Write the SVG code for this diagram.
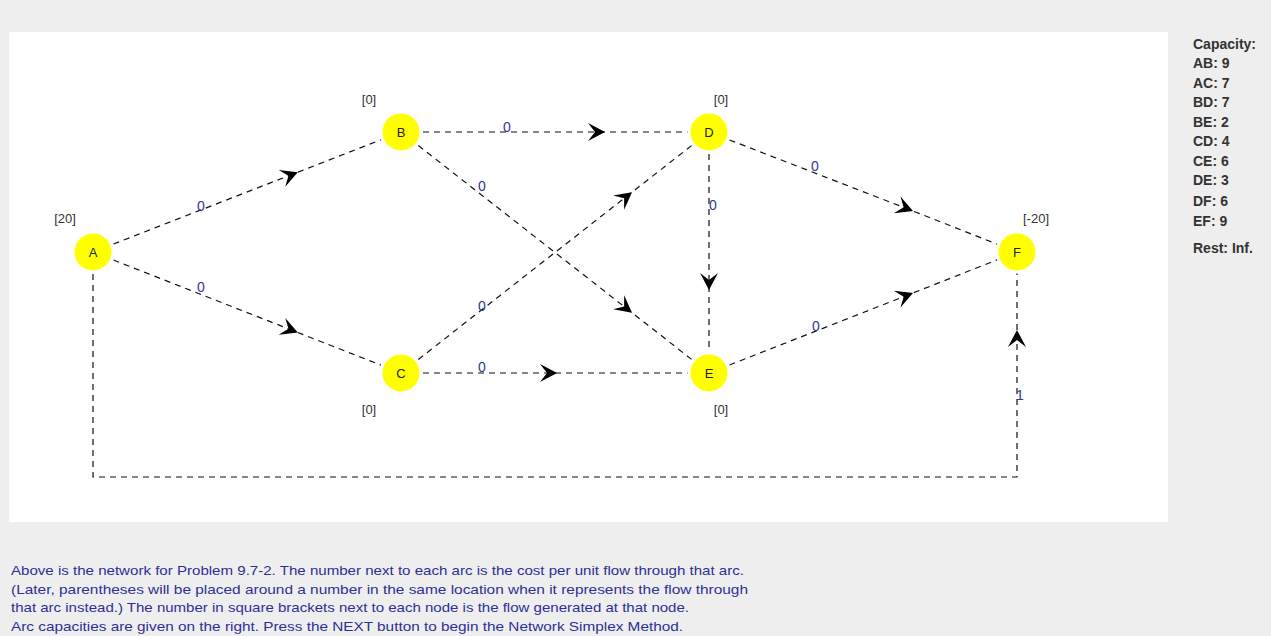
<svg xmlns="http://www.w3.org/2000/svg" width="1271" height="636" viewBox="0 0 1271 636">
<style>
.edge{fill:none;stroke:#111;stroke-width:1.2;stroke-dasharray:6 5}
.node{fill:#ffff00;stroke:#ffffff;stroke-width:3}
.nl{font-family:"Liberation Sans",Arial,sans-serif;font-size:13px;fill:#222;text-anchor:middle}
.br{font-family:"Liberation Sans",Arial,sans-serif;font-size:13px;fill:#333;text-anchor:middle}
.cost{font-family:"Liberation Sans",Arial,sans-serif;font-size:14px;fill:#33339a;text-anchor:middle}
.cap{font-family:"Liberation Sans",Arial,sans-serif;font-size:14px;font-weight:bold;fill:#333}
.info{font-family:"Liberation Sans",Arial,sans-serif;font-size:13px;fill:#2e2e96}
</style>
<defs>
<marker id="ah" markerUnits="userSpaceOnUse" viewBox="-18 -10 19 20" markerWidth="19" markerHeight="20" refX="0" refY="0" orient="auto">
<path d="M0,0 L-17,-9 L-10,0 L-17,9 Z" fill="#000"/>
</marker>
</defs>
<rect x="0" y="0" width="1271" height="636" fill="#eeeeee"/>
<rect x="9" y="32" width="1159" height="490" fill="#ffffff"/>
<g id="connectors">
<path class="edge" d="M93,252 L297.8,172.2 L401,132" marker-mid="url(#ah)"/>
<path class="edge" d="M93,252 L297.8,332.5 L401,373" marker-mid="url(#ah)"/>
<path class="edge" d="M401,132 L605,132 L709,132" marker-mid="url(#ah)"/>
<path class="edge" d="M401,132 L632,312.7 L709,373" marker-mid="url(#ah)"/>
<path class="edge" d="M401,373 L632,192.2 L709,132" marker-mid="url(#ah)"/>
<path class="edge" d="M401,373 L557,373 L709,373" marker-mid="url(#ah)"/>
<path class="edge" d="M709,132 L709,290 L709,373" marker-mid="url(#ah)"/>
<path class="edge" d="M709,132 L913,211 L1017,252" marker-mid="url(#ah)"/>
<path class="edge" d="M709,373 L913,293 L1017,252" marker-mid="url(#ah)"/>
<path class="edge" d="M93,252 V477 H1017 V330" marker-end="url(#ah)"/>
<path class="edge" d="M1017,330 V252"/>
<text class="cost" x="201" y="211">0</text>
<text class="cost" x="201" y="292">0</text>
<text class="cost" x="507" y="132">0</text>
<text class="cost" x="482" y="191">0</text>
<text class="cost" x="482" y="311">0</text>
<text class="cost" x="482" y="372">0</text>
<text class="cost" x="713" y="210">0</text>
<text class="cost" x="815" y="171">0</text>
<text class="cost" x="816" y="331">0</text>
<text class="cost" x="1020" y="400">1</text>
</g>
<g id="node-A"><circle class="node" cx="93" cy="252" r="20"/><text class="nl" x="93" y="257">A</text><text class="br" x="65" y="223">[20]</text></g>
<g id="node-B"><circle class="node" cx="401" cy="132" r="20"/><text class="nl" x="401" y="137">B</text><text class="br" x="369" y="104">[0]</text></g>
<g id="node-C"><circle class="node" cx="401" cy="373" r="20"/><text class="nl" x="401" y="378">C</text><text class="br" x="369" y="414">[0]</text></g>
<g id="node-D"><circle class="node" cx="709" cy="132" r="20"/><text class="nl" x="709" y="137">D</text><text class="br" x="721" y="104">[0]</text></g>
<g id="node-E"><circle class="node" cx="709" cy="373" r="20"/><text class="nl" x="709" y="378">E</text><text class="br" x="721" y="414">[0]</text></g>
<g id="node-F"><circle class="node" cx="1017" cy="252" r="20"/><text class="nl" x="1017" y="257">F</text><text class="br" x="1036" y="223">[-20]</text></g>
<g id="legend">
<text class="cap" x="1193" y="49">Capacity:</text>
<text class="cap" x="1193" y="68">AB: 9</text>
<text class="cap" x="1193" y="88">AC: 7</text>
<text class="cap" x="1193" y="107">BD: 7</text>
<text class="cap" x="1193" y="127">BE: 2</text>
<text class="cap" x="1193" y="146">CD: 4</text>
<text class="cap" x="1193" y="166">CE: 6</text>
<text class="cap" x="1193" y="185">DE: 3</text>
<text class="cap" x="1193" y="206">DF: 6</text>
<text class="cap" x="1193" y="226">EF: 9</text>
<text class="cap" x="1193" y="253">Rest: Inf.</text>
</g>
<g id="info">
<text class="info" x="11" y="575" textLength="733" lengthAdjust="spacingAndGlyphs">Above is the network for Problem 9.7-2. The number next to each arc is the cost per unit flow through that arc.</text>
<text class="info" x="11" y="594" textLength="737" lengthAdjust="spacingAndGlyphs">(Later, parentheses will be placed around a number in the same location when it represents the flow through</text>
<text class="info" x="11" y="612" textLength="678" lengthAdjust="spacingAndGlyphs">that arc instead.) The number in square brackets next to each node is the flow generated at that node.</text>
<text class="info" x="11" y="631" textLength="672" lengthAdjust="spacingAndGlyphs">Arc capacities are given on the right.  Press the NEXT button to begin the Network Simplex Method.</text>
</g>
</svg>
